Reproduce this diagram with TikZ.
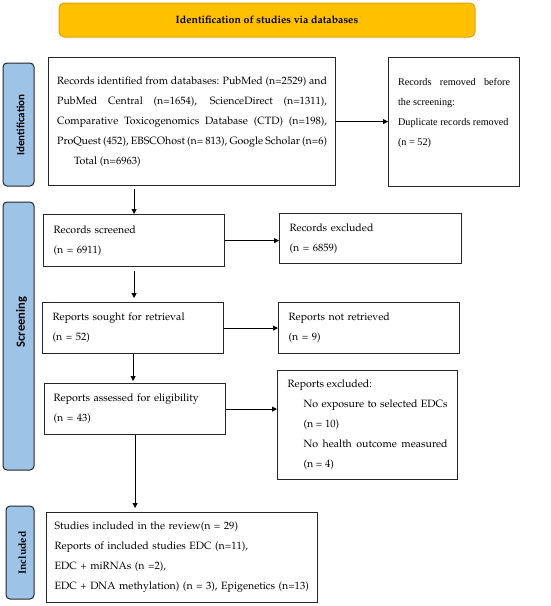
\documentclass[tikz,border=0pt]{standalone}
\usepackage[T1]{fontenc}
\usepackage{fontspec}
\usetikzlibrary{arrows.meta,calc}
\newfontfamily\carlfont{Carlito}
\newfontfamily\timesfont{Liberation Serif}
\newcommand\palfont{\fontencoding{T1}\fontfamily{ppl}\selectfont}
\definecolor{bannerfill}{HTML}{FFC000}
\definecolor{bannerdraw}{HTML}{E0A400}
\definecolor{sidefill}{HTML}{9DC3E6}
\definecolor{boxdraw}{HTML}{262626}
\tikzset{
  box/.style={draw=boxdraw, line width=1.2pt, fill=white, rectangle, anchor=north west,
    inner ysep=2pt, font={\palfont\fontsize{10.6}{20}\selectfont}},
  sidebar/.style={draw=boxdraw, line width=1pt, fill=sidefill, rounded corners=4pt, inner sep=0pt},
  arr/.style={draw=black, line width=0.8pt, -{Triangle[length=5pt,width=5pt]}},
}
\begin{document}
\begin{tikzpicture}[x=1pt,y=-1pt]
\useasboundingbox (0,0) rectangle (550,606);
% banner
\node[draw=bannerdraw, line width=1pt, fill=bannerfill, rounded corners=5pt,
  minimum width=416pt, minimum height=34pt, inner sep=0pt,
  font={\palfont\bfseries\fontsize{10.6}{12}\selectfont}] (banner) at (267,20) {Identification of studies via databases};
% side bars
\node[sidebar, minimum width=31pt, minimum height=123pt] (sid1) at (18.5,124.5) {};
\node[rotate=90, font={\carlfont\bfseries\fontsize{11}{13}\selectfont}] (lab1) at (20.5,125) {Identification};
\node[sidebar, minimum width=31pt, minimum height=268pt] (sid2) at (18.5,336) {};
\node[rotate=90, font={\carlfont\bfseries\fontsize{12.5}{14}\selectfont}] (lab2) at (21.5,322) {Screening};
\node[sidebar, minimum width=28pt, minimum height=93pt] (sid3) at (20,552.5) {};
\node[rotate=90, font={\palfont\bfseries\fontsize{10.6}{12}\selectfont}] (lab3) at (22,553) {Included};
% boxes
\node[box, minimum width=287pt, minimum height=128pt, text width=270pt, inner xsep=8.5pt, align=justify] (b1) at (48,57)
 {Records identified from databases: PubMed (n=2529) and\linebreak
  PubMed Central (n=1654), ScienceDirect (n=1311),\linebreak
  Comparative Toxicogenomics Database (CTD) (n=198),\linebreak
  ProQuest (452), EBSCOhost (n=~813), Google Scholar (n=6)\linebreak
  \hspace*{17pt}Total (n=6963)};
\node[box, minimum width=131pt, minimum height=129pt, text width=112pt, inner xsep=9.5pt, align=justify,
  font={\timesfont\fontsize{10.2}{20}\selectfont}] (rem) at (388,57)
 {Records removed before\linebreak the screening:\\
  Duplicate records removed\\
  (n = 52)\\ \mbox{}};
\node[box, minimum width=181pt, minimum height=52pt, text width=161pt, inner xsep=10pt, align=left] (scr) at (43,214)
 {Records screened\\(n = 6911)};
\node[box, minimum width=182pt, minimum height=50pt, text width=162pt, inner xsep=10pt, align=left] (exc) at (279,213)
 {Records excluded\\(n = 6859)};
\node[box, minimum width=181pt, minimum height=51pt, text width=161pt, inner xsep=10pt, align=left] (sou) at (42,302)
 {Reports sought for retrieval\\(n = 52)};
\node[box, minimum width=181pt, minimum height=51pt, text width=161pt, inner xsep=10pt, align=left] (nret) at (278,302)
 {Reports not retrieved\\(n = 9)};
\node[box, minimum width=181pt, minimum height=51pt, text width=163pt, inner xsep=9pt, align=left] (ass) at (44,383)
 {Reports assessed for eligibility\\(n = 43)};
\node[box, minimum width=180pt, minimum height=109pt, text width=160pt, inner xsep=10pt, align=justify] (rexc) at (277,370)
 {Reports excluded:\\
  \hspace*{16pt}No exposure to selected EDCs\linebreak
  \hspace*{16pt}(n = 10)\\
  \hspace*{16pt}No health outcome measured\linebreak
  \hspace*{16pt}(n = 4)};
\node[box, minimum width=271pt, minimum height=90pt, text width=255pt, inner xsep=8pt, align=left] (inc) at (46,512)
 {Studies included in the review(n = 29)\\
  Reports of included studies EDC (n=11),\\
  EDC + miRNAs (n =2),\\
  EDC + DNA methylation) (n = 3), Epigenetics (n=13)};
% connectors
\draw[arr] (b1.east) -- (rem.west |- b1.east);
\draw[arr, shorten <=3pt] (scr.north |- b1.south) -- (scr.north);
\draw[arr] (scr.east) -- (exc.west |- scr.east);
\draw[arr, shorten <=4pt, shorten >=4pt] (scr.south) -- (scr.south |- sou.north);
\draw[arr] (sou.east) -- (nret.west |- sou.east);
\draw[arr, shorten >=2pt] (sou.south) -- (sou.south |- ass.north);
\draw[arr] (ass.east) -- (rexc.west |- ass.east);
\draw[arr, shorten >=4pt] (ass.south) -- (ass.south |- inc.north);
\end{tikzpicture}
\end{document}
